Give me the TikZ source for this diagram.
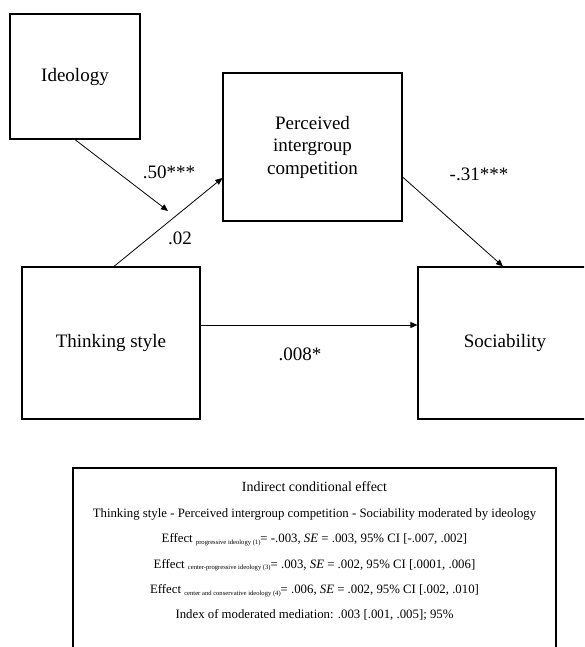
\documentclass[tikz,border=0pt]{standalone}
\usepackage{fontspec}
\setmainfont{Liberation Serif}
\usepackage{tikz}
\usetikzlibrary{arrows.meta,calc,positioning}

\tikzset{
    var/.style={draw, line width=1.2pt, inner sep=0pt, align=center, font=\fontsize{19}{22.5}\selectfont},
    path/.style={line width=0.8pt, -{Triangle[length=7pt,width=6pt]}},
    coef/.style={font=\fontsize{19}{22.5}\selectfont},
}
\newcommand{\grp}[1]{{\fontsize{6.6}{8}\selectfont\raisebox{-1.5pt}{#1}}}

\begin{document}
\begin{tikzpicture}[x=1pt,y=-1pt]
\useasboundingbox (0,0) rectangle (584,647);
\clip (0,0) rectangle (584,647);

\node[var, minimum width=130pt, minimum height=125pt] (ideo) at (75,76.5) {Ideology};
\node[var, minimum width=179pt, minimum height=148pt] (perc) at (312.5,147) {Perceived\\intergroup\\competition};
\node[var, minimum width=178pt, minimum height=152pt] (think) at (111,343) {Thinking style};
\node[var, minimum width=174pt, minimum height=152pt] (soc) at (505,343) {Sociability};

\coordinate (mod) at (168,211);

\draw [path] (ideo.south) -- (mod);
\draw [path] ([xshift=3pt]think.north) -- ([yshift=-31pt]perc.west);
\draw [path] ([yshift=-30pt]perc.east) -- ([xshift=-2pt]soc.north);
\draw [path] ([yshift=18pt]think.east) -- ([yshift=18pt]soc.west);

\node[coef] (b1) at (169,172) {.50***};
\node[coef] (b2) at (180,238) {.02};
\node[coef] (b3) at (479,174) {-.31***};
\node[coef] (b4) at (300,354) {.008*};

% summary of the indirect effect
\node[draw, line width=1.2pt, minimum width=483pt, minimum height=190pt] (summary) at (314.5,563) {};
\node[align=center, font=\fontsize{12.8}{25.4}\selectfont] (effects) at (314.5,551.5) {
{\fontsize{14}{25.4}\selectfont Indirect conditional effect}\\
Thinking style - Perceived intergroup competition - Sociability moderated by ideology\\
Effect \grp{progressive ideology (1)}= -.003, \textit{SE} = .003, 95\% CI [-.007, .002]\\
Effect \grp{center-progressive ideology (3)}= .003, \textit{SE} = .002, 95\% CI [.0001, .006]\\
Effect \grp{center and conservative ideology (4)}= .006, \textit{SE} = .002, 95\% CI [.002, .010]\\
Index of moderated mediation: .003 [.001, .005]; 95\%};

\end{tikzpicture}
\end{document}
